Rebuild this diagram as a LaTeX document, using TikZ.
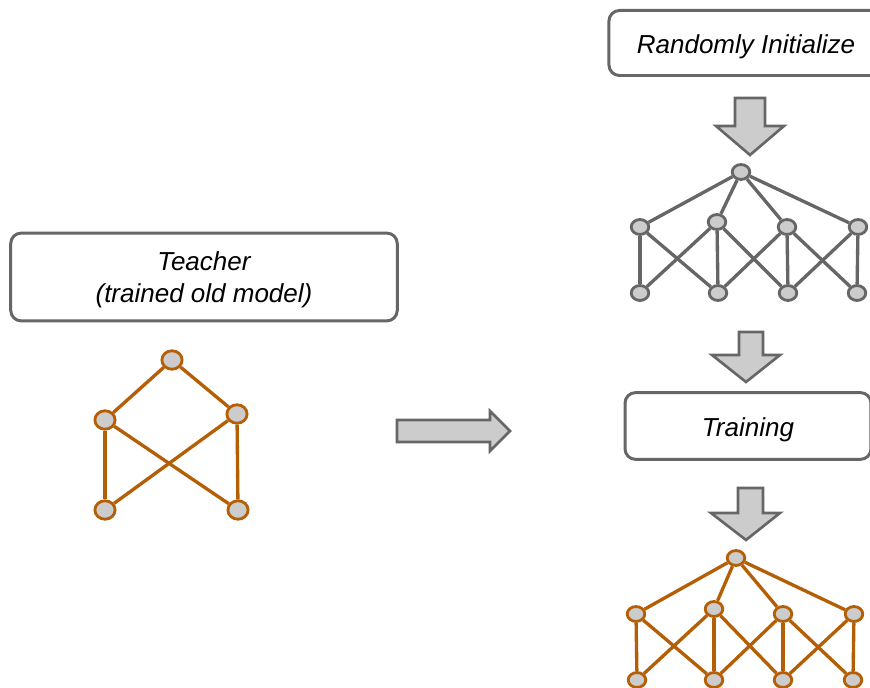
\documentclass[tikz,border=0pt]{standalone}
\usepackage{fontspec}
\setmainfont{Liberation Sans}
\usetikzlibrary{shapes.geometric}
\definecolor{rust}{HTML}{B45F06}
\definecolor{slate}{HTML}{666666}
\definecolor{pale}{HTML}{CCCCCC}

\begin{document}
\begin{tikzpicture}[x=0.02cm,y=-0.02cm,
    textbox/.style={draw=slate,line width=1.7pt,rounded corners=6pt,fill=white,align=center,
                    inner sep=0pt,text depth=0pt,font=\fontsize{14.8}{18}\selectfont\itshape},
    blockarrow/.style={draw=slate,fill=pale,line width=1.5pt,line join=miter},
    unit/.style={draw,ellipse,fill=pale,line width=1.6pt,inner sep=0pt,minimum width=10pt,minimum height=8.5pt},
    bigunit/.style={unit,minimum width=11.5pt,minimum height=10.5pt},
    gwire/.style={-,draw=slate,line width=1.9pt},
    owire/.style={-,draw=rust,line width=1.9pt}]
    \useasboundingbox (0,0) rectangle (870,688);

    \node (teacher) at (204,277) [textbox,minimum width=220pt,minimum height=50pt] {Teacher\\(trained old model)};
    \node (init)    at (746,43)  [textbox,text height=12pt,minimum width=156pt,minimum height=37pt] {Randomly Initialize};
    \node (train)   at (748,426) [textbox,text height=12pt,minimum width=140pt,minimum height=38pt] {Training};

    % teacher network
    \node (t0) at (172,360) [bigunit,draw=rust] {};
    \node (t1) at (105,420) [bigunit,draw=rust] {};
    \node (t2) at (237,414) [bigunit,draw=rust] {};
    \node (t3) at (105,510) [bigunit,draw=rust] {};
    \node (t4) at (238,510) [bigunit,draw=rust] {};

    \draw[owire] (t0) to (t1);
    \draw[owire] (t0) to (t2);
    \draw[owire] (t1) to (t3);
    \draw[owire] (t2) to (t4);
    \draw[owire] (t1) to (t4);
    \draw[owire] (t2) to (t3);

    % randomly initialized network
    \node (r0) at (741,172) [unit,draw=slate] {};
    \node (r1) at (640,227) [unit,draw=slate] {};
    \node (r2) at (717,222) [unit,draw=slate] {};
    \node (r3) at (787,227) [unit,draw=slate] {};
    \node (r4) at (858,227) [unit,draw=slate] {};
    \node (r5) at (640,293) [unit,draw=slate] {};
    \node (r6) at (718,293) [unit,draw=slate] {};
    \node (r7) at (788,293) [unit,draw=slate] {};
    \node (r8) at (857,293) [unit,draw=slate] {};

    \draw[gwire] (r0) to (r1);
    \draw[gwire] (r0) to (r2);
    \draw[gwire] (r0) to (r3);
    \draw[gwire] (r0) to (r4);
    \draw[gwire] (r1) to (r5);
    \draw[gwire] (r2) to (r6);
    \draw[gwire] (r3) to (r7);
    \draw[gwire] (r4) to (r8);
    \draw[gwire] (r1) to (r6);
    \draw[gwire] (r2) to (r5);
    \draw[gwire] (r2) to (r7);
    \draw[gwire] (r3) to (r6);
    \draw[gwire] (r3) to (r8);
    \draw[gwire] (r4) to (r7);

    % trained student network
    \node (s0) at (736,558) [unit,draw=rust] {};
    \node (s1) at (636,614) [unit,draw=rust] {};
    \node (s2) at (714,609) [unit,draw=rust] {};
    \node (s3) at (783,614) [unit,draw=rust] {};
    \node (s4) at (854,614) [unit,draw=rust] {};
    \node (s5) at (637,680) [unit,draw=rust] {};
    \node (s6) at (714,680) [unit,draw=rust] {};
    \node (s7) at (783,680) [unit,draw=rust] {};
    \node (s8) at (853,680) [unit,draw=rust] {};

    \draw[owire] (s0) to (s1);
    \draw[owire] (s0) to (s2);
    \draw[owire] (s0) to (s3);
    \draw[owire] (s0) to (s4);
    \draw[owire] (s1) to (s5);
    \draw[owire] (s2) to (s6);
    \draw[owire] (s3) to (s7);
    \draw[owire] (s4) to (s8);
    \draw[owire] (s1) to (s6);
    \draw[owire] (s2) to (s5);
    \draw[owire] (s2) to (s7);
    \draw[owire] (s3) to (s6);
    \draw[owire] (s3) to (s8);
    \draw[owire] (s4) to (s7);

    % block arrows
    \draw[blockarrow] (397,420) -- (490,420) -- (490,411) -- (510,431) -- (490,451) -- (490,442) -- (397,442) -- cycle;
    \draw[blockarrow] (735,98) -- (765,98) -- (765,126) -- (784,126) -- (750,155) -- (716,126) -- (735,126) -- cycle;
    \draw[blockarrow] (739,332) -- (763,332) -- (763,355) -- (780,355) -- (746,382) -- (712,355) -- (739,355) -- cycle;
    \draw[blockarrow] (738,488) -- (763,488) -- (763,513) -- (780,513) -- (746,540) -- (711,513) -- (738,513) -- cycle;

\end{tikzpicture}
\end{document}
